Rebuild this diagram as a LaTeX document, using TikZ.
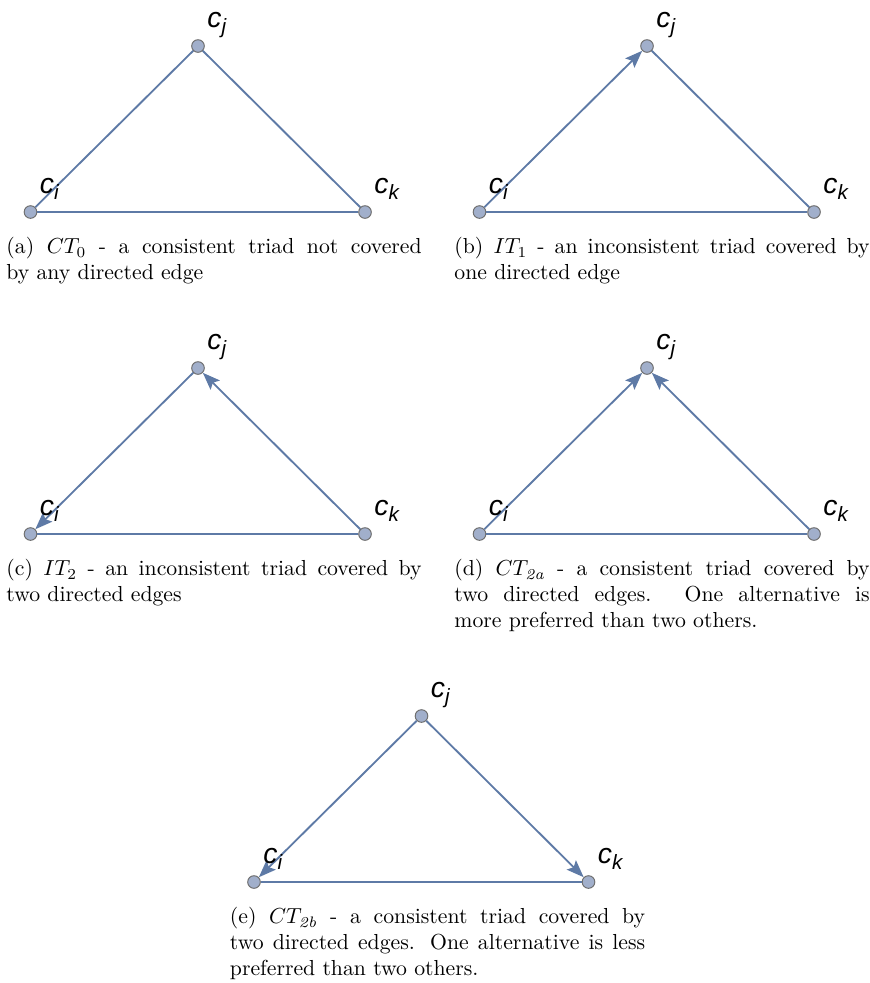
\documentclass[tikz,border=0pt]{standalone}
\usepackage{fontspec}
\newfontfamily\lblfont{Liberation Sans}
\usetikzlibrary{arrows.meta}
\definecolor{edgec}{RGB}{94,122,166}
\definecolor{vfill}{RGB}{161,175,203}
\definecolor{vdraw}{RGB}{110,110,110}
\newcommand{\vlab}[1]{c\raisebox{-3pt}{\fontsize{9.5}{9.5}\selectfont #1}}
\begin{document}
\begin{tikzpicture}[x=0.46pt,y=-0.46pt,
  vert/.style={circle,fill=vfill,draw=vdraw,line width=0.45pt,minimum size=5.8pt,inner sep=0pt},
  edge/.style={draw=edgec,line width=0.85pt},
  arr/.style={edge,-{Stealth[length=8pt,width=6pt,inset=1.5pt]}},
  lbl/.style={font=\lblfont\itshape\fontsize{13}{13}\selectfont,inner sep=0pt,anchor=base west},
  captext/.style={anchor=north west,text width=191pt,align=justify,inner sep=0pt,font=\rmfamily\fontsize{10}{12}\selectfont}
]
\useasboundingbox (0,0) rectangle (870,983);

% ---------- (a) ----------
\node[vert] (ai) at (30.5,212) {};
\node[vert] (aj) at (198,46) {};
\node[vert] (ak) at (365,212) {};
\draw[edge] (ai) -- (aj);
\draw[edge] (aj) -- (ak);
\draw[edge] (ai) -- (ak);
\node[lbl] (lai) at ([shift={(9,-19)}]ai.center) {\vlab{i}};
\node[lbl] (laj) at ([shift={(9,-19)}]aj.center) {\vlab{j}};
\node[lbl] (lak) at ([shift={(9,-19)}]ak.center) {\vlab{k}};
\node[captext] (capa) at (6,237) {(a) $CT_0$ - a consistent triad not covered\linebreak by any directed edge};

% ---------- (b) ----------
\node[vert] (bi) at (479.5,212) {};
\node[vert] (bj) at (647,46) {};
\node[vert] (bk) at (814,212) {};
\draw[arr] (bi) -- (bj);
\draw[edge] (bj) -- (bk);
\draw[edge] (bi) -- (bk);
\node[lbl] (lbi) at ([shift={(9,-19)}]bi.center) {\vlab{i}};
\node[lbl] (lbj) at ([shift={(9,-19)}]bj.center) {\vlab{j}};
\node[lbl] (lbk) at ([shift={(9,-19)}]bk.center) {\vlab{k}};
\node[captext] (capb) at (454,237) {(b) $IT_1$ - an inconsistent triad covered by\linebreak one directed edge};

% ---------- (c) ----------
\node[vert] (ci) at (30.5,534) {};
\node[vert] (cj) at (198,368) {};
\node[vert] (ck) at (365,534) {};
\draw[arr] (cj) -- (ci);
\draw[arr] (ck) -- (cj);
\draw[edge] (ci) -- (ck);
\node[lbl] (lci) at ([shift={(9,-19)}]ci.center) {\vlab{i}};
\node[lbl] (lcj) at ([shift={(9,-19)}]cj.center) {\vlab{j}};
\node[lbl] (lck) at ([shift={(9,-19)}]ck.center) {\vlab{k}};
\node[captext] (capc) at (6,559) {(c) $IT_2$ - an inconsistent triad covered by\linebreak two directed edges};

% ---------- (d) ----------
\node[vert] (di) at (479.5,534) {};
\node[vert] (dj) at (647,368) {};
\node[vert] (dk) at (814,534) {};
\draw[arr] (di) -- (dj);
\draw[arr] (dk) -- (dj);
\draw[edge] (di) -- (dk);
\node[lbl] (ldi) at ([shift={(9,-19)}]di.center) {\vlab{i}};
\node[lbl] (ldj) at ([shift={(9,-19)}]dj.center) {\vlab{j}};
\node[lbl] (ldk) at ([shift={(9,-19)}]dk.center) {\vlab{k}};
\node[captext] (capd) at (454,559) {(d) $CT_{\mathit{2a}}$ - a consistent triad covered by\linebreak two directed edges. One alternative is\linebreak more preferred than two others.};

% ---------- (e) ----------
\node[vert] (ei) at (254,882) {};
\node[vert] (ej) at (421.5,716) {};
\node[vert] (ek) at (588.5,882) {};
\draw[arr] (ej) -- (ei);
\draw[arr] (ej) -- (ek);
\draw[edge] (ei) -- (ek);
\node[lbl] (lei) at ([shift={(9,-19)}]ei.center) {\vlab{i}};
\node[lbl] (lej) at ([shift={(9,-19)}]ej.center) {\vlab{j}};
\node[lbl] (lek) at ([shift={(9,-19)}]ek.center) {\vlab{k}};
\node[captext] (cape) at (229.5,907) {(e) $CT_{\mathit{2b}}$ - a consistent triad covered by\linebreak two directed edges. One alternative is less\linebreak preferred than two others.};
\end{tikzpicture}
\end{document}
